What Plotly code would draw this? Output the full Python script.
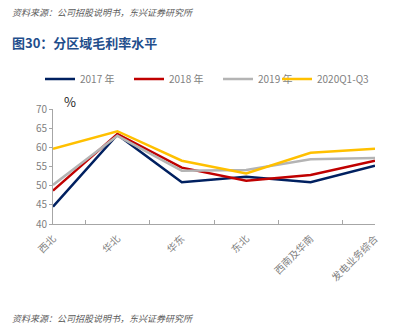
import plotly.graph_objects as go

categories = ["西北", "华北", "华东", "东北", "西南及华南", "发电业务综合"]
s2017 = [44.5, 63.3, 50.9, 52.3, 50.9, 55.2]
s2018 = [48.7, 63.5, 54.7, 51.3, 52.8, 56.5]
s2019 = [50.2, 63.0, 53.9, 54.1, 56.9, 57.2]
s2020 = [59.6, 64.2, 56.5, 53.2, 58.6, 59.6]
names = ["2017 年", "2018 年", "2019 年", "2020Q1-Q3"]
colors = ["#002060", "#C00000", "#B4B4B4", "#FFC000"]
legend_ids = ["legend", "legend", "legend", "legend2"]
y_ticks = [40, 45, 50, 55, 60, 65, 70]

CJK = "Noto Sans CJK SC"
W, H = 394, 328
ML, MR, MT, MB = 53, 19, 109, 104
pw = W - ML - MR
ph = H - MT - MB

fig = go.Figure()
for name, vals, col, lg in zip(names, [s2017, s2018, s2019, s2020], colors, legend_ids):
    fig.add_trace(go.Scatter(x=categories, y=vals, name=name, mode="lines",
                             line=dict(color=col, width=2.5), legend=lg))

leg_common = dict(orientation="h", xanchor="left", xref="container",
                  y=1 - 79 / H, yref="container", yanchor="middle",
                  font=dict(size=10, color="#7F7F7F"), itemwidth=30, tracegroupgap=0,
                  bgcolor="rgba(0,0,0,0)")

fig.update_layout(
    width=W, height=H,
    margin=dict(l=ML, r=MR, t=MT, b=MB, autoexpand=False),
    paper_bgcolor="white", plot_bgcolor="white",
    font=dict(family=CJK, color="#7F7F7F", size=10),
    showlegend=True,
    legend=dict(x=40 / W, entrywidth=44, entrywidthmode="pixels", **leg_common),
    legend2=dict(x=277 / W, **leg_common),
    xaxis=dict(type="category", showline=True, linecolor="#A6A6A6", linewidth=1,
               tickson="boundaries", ticks="inside", ticklen=4, tickcolor="#A6A6A6",
               tickangle=-45, tickfont=dict(size=10, color="#7F7F7F"), showgrid=False,
               zeroline=False, automargin=False, ticklabelstandoff=4),
    yaxis=dict(range=[40, 70], tickvals=y_ticks, showline=True, linecolor="#A6A6A6",
               linewidth=1, ticks="outside", ticklen=3, tickcolor="#A6A6A6",
               showgrid=False, zeroline=False, automargin=False,
               tickfont=dict(size=10, color="#7F7F7F")),
)

anns = [
    ("<i>资料来源：公司招股说明书，东兴证券研究所</i>", 10, 12, dict(size=9, color="#595959", family=CJK)),
    ("<b>图30：分区域毛利率水平</b>", 10, 42, dict(size=13, color="#1F4E8C", family=CJK)),
    ("<i>资料来源：公司招股说明书，东兴证券研究所</i>", 10, 318, dict(size=9, color="#595959", family=CJK)),
]
for text, px, py, f in anns:
    fig.add_annotation(text=text, x=(px - ML) / pw, y=(H - MB - py) / ph,
                       xref="paper", yref="paper", xanchor="left", yanchor="middle",
                       showarrow=False, font=f)
fig.add_annotation(text="%", x=(70 - ML) / pw, y=(H - MB - 101) / ph, xref="paper", yref="paper",
                   xanchor="center", yanchor="middle", showarrow=False,
                   font=dict(size=13, color="#262626", family=CJK))

fig.write_html("out.html")
